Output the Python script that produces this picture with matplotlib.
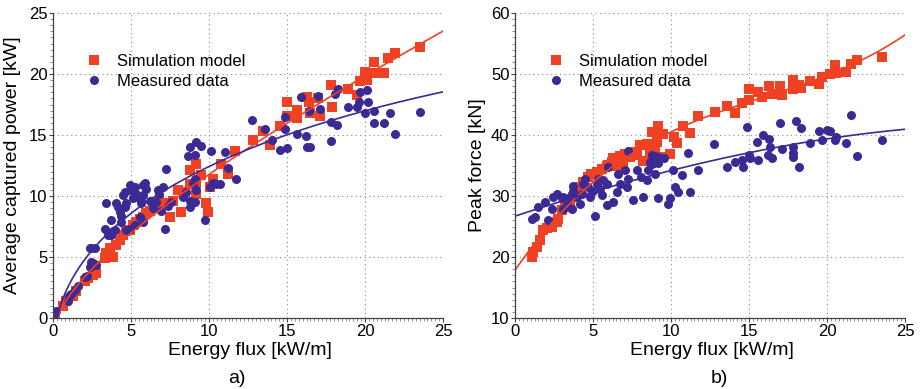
import matplotlib
matplotlib.use('Agg')
import matplotlib.pyplot as plt
import matplotlib.ticker as ticker
import numpy as np

plt.rcParams['font.family'] = ['Liberation Sans', 'DejaVu Sans']

RED = '#EF4123'
BLUE = '#3B2A94'

# a) average captured power vs energy flux
pow_sim_x = [0.11, 0.64, 0.85, 1.28, 1.5, 2.03, 2.26, 2.56, 2.78, 2.67, 3.31, 3.42, 3.85, 3.63,
             4.06, 4.27, 4.49, 4.7, 4.92, 5.13, 5.34, 5.56, 5.77, 5.98, 6.2, 6.4, 6.6, 6.8, 7.26,
             7.48, 7.69, 8.0, 8.22, 8.44, 8.76, 8.76, 9.19, 9.19, 9.51, 9.19, 9.83, 9.94, 10.04,
             10.25, 10.8, 11.2, 11.65, 13.46, 12.8, 13.94, 14.57, 15.0, 15.64, 15.64, 16.28, 16.4,
             16.5, 17.1, 17.0, 17.8, 17.9, 18.9, 19.5, 19.7, 20.1, 20.0, 20.6, 20.6, 21.2, 21.5,
             21.9, 23.5, 15.0]
pow_sim_y = [0.27, 0.95, 1.36, 1.77, 2.2, 3.0, 3.3, 3.5, 3.7, 4.1, 4.9, 5.3, 5.0, 5.7,
             6.0, 6.4, 6.8, 7.1, 7.2, 7.6, 7.9, 8.15, 8.3, 8.6, 8.8, 9.0, 9.1, 9.6, 9.4,
             8.3, 9.6, 10.5, 8.7, 10.3, 11.0, 12.1, 12.6, 11.1, 11.7, 10.2, 9.4, 8.7, 10.7,
             11.4, 12.6, 11.8, 13.7, 15.3, 14.6, 14.2, 15.7, 16.6, 17.05, 16.4, 18.1, 17.7,
             16.8, 16.6, 18.0, 19.1, 17.3, 18.8, 18.3, 19.4, 19.5, 20.2, 20.05, 21.0, 20.05, 21.3,
             21.7, 22.2, 17.7]

pow_meas_x = [0.21, 0.04, 0.96, 1.18, 1.4, 1.6, 1.03, 2.03, 2.18, 2.35, 2.46, 2.56, 2.78, 2.46,
              2.35, 2.67, 3.31, 3.53, 3.74, 3.85, 3.96, 3.74, 3.42, 4.06, 4.27, 4.17, 4.38, 4.6,
              4.7, 4.38, 4.6, 4.49, 4.92, 5.02, 5.24, 5.34, 5.45, 5.66, 5.77, 5.88, 5.98, 5.66,
              6.2, 6.4, 6.6, 6.7, 6.8, 7.05, 7.26, 6.94, 7.16, 7.37, 7.58, 8.33, 8.55, 8.76,
              8.97, 9.08, 9.19, 9.08, 9.72, 10.04, 10.25, 10.47, 10.68, 11.75, 8.65, 9.08, 10.15,
              11.0, 8.76, 5.77, 5.13, 5.56, 4.92, 5.77, 5.24, 4.7, 12.76, 13.57, 8.76, 9.19,
              9.51, 11.2, 14.04, 14.57, 15.0, 14.9, 14.9, 15.64, 15.9, 16.2, 16.3, 16.5, 16.4,
              17.0, 17.1, 17.8, 17.8, 18.1, 18.2, 18.3, 18.9, 19.5, 19.6, 19.7, 20.1, 20.2,
              20.0, 20.6, 20.6, 21.2, 21.6, 21.9, 23.5]
pow_meas_y = [0.54, 0.27, 1.36, 1.98, 2.3, 2.6, 1.77, 3.34, 3.45, 4.2, 4.6, 4.5, 4.35, 5.7,
              5.7, 5.7, 7.3, 6.8, 6.8, 7.1, 7.25, 8.0, 9.4, 9.4, 8.7, 9.1, 8.4, 9.1,
              9.4, 7.9, 10.3, 10.05, 10.9, 10.5, 10.7, 10.2, 9.9, 9.6, 10.05, 11.1, 10.6, 9.4,
              9.6, 9.0, 9.5, 10.5, 10.2, 10.7, 12.2, 8.8, 7.3, 9.2, 9.5, 9.9, 10.3, 9.6,
              11.1, 11.4, 10.5, 9.5, 8.0, 10.7, 11.1, 11.0, 11.0, 11.4, 13.3, 13.4, 13.7,
              13.6, 9.1, 10.9, 9.8, 8.3, 7.3, 7.9, 7.6, 7.2, 16.2, 15.5, 14.0, 14.4,
              14.1, 12.3, 14.6, 13.8, 13.9, 16.5, 15.5, 15.1, 18.1, 14.9, 14.0, 14.0, 17.0,
              18.2, 17.1, 16.1, 14.5, 18.4, 15.8, 18.8, 17.3, 17.3, 17.7, 18.5, 18.7, 17.7,
              16.8, 17.0, 16.0, 16.0, 16.8, 15.1, 16.9]

# b) peak force vs energy flux
force_sim_x = [1.07, 1.18, 1.39, 1.6, 1.82, 2.03, 2.35, 2.67, 2.78, 3.0, 3.2, 3.53, 3.74, 3.95,
               4.17, 4.38, 4.7, 4.9, 5.24, 5.56, 5.88, 6.2, 6.52, 6.73, 7.05, 7.37, 7.7, 8.22,
               8.65, 9.51, 9.94, 6.94, 6.3, 13.57, 12.8, 14.1, 11.75, 10.75, 11.2, 10.2, 10.4,
               9.19, 8.76, 9.08, 9.51, 8.44, 8.01, 8.65, 9.08, 8.97, 7.8, 6.73, 6.3, 6.52, 5.98,
               14.53, 15.0, 15.0, 15.6, 15.85, 16.28, 16.5, 17.0, 17.1, 17.8, 17.8, 18.2, 18.3,
               18.9, 19.5, 19.7, 20.2, 20.5, 20.6, 21.2, 21.55, 21.9, 23.5]
force_sim_y = [20.05, 20.9, 21.7, 22.8, 24.4, 24.7, 24.9, 25.8, 26.3, 27.7, 28.2, 29.0, 29.8, 30.65,
               31.5, 32.3, 33.1, 33.6, 33.9, 34.5, 35.0, 35.5, 36.1, 36.6, 36.9, 36.4, 37.2, 35.8,
               36.4, 36.4, 36.9, 35.0, 35.0, 44.75, 43.8, 43.6, 43.1, 41.4, 40.3, 39.7, 38.7,
               41.4, 40.5, 40.0, 40.2, 38.6, 38.4, 37.8, 38.9, 37.3, 36.7, 36.2, 36.2, 35.1, 35.1,
               45.2, 47.5, 45.7, 47.1, 46.3, 48.0, 46.8, 48.0, 46.6, 49.0, 47.5, 48.2, 47.65,
               48.9, 48.4, 49.5, 50.0, 51.5, 50.2, 50.4, 51.6, 52.3, 52.8]

force_meas_x = [1.07, 1.28, 1.5, 1.92, 2.14, 2.35, 2.46, 2.67, 2.99, 3.1, 3.31, 3.53, 3.63, 3.74,
                3.95, 4.17, 4.27, 4.38, 4.49, 4.7, 4.8, 5.02, 5.13, 5.24, 5.34, 5.45, 5.56, 5.66,
                5.88, 5.88, 5.98, 6.3, 6.52, 6.62, 6.73, 7.05, 7.16, 7.26, 7.58, 7.8, 8.1, 8.22,
                8.44, 8.55, 8.76, 8.97, 9.19, 9.83, 9.94, 10.15, 10.25, 10.47, 10.68, 11.2, 11.75,
                13.57, 14.1, 7.26, 8.97, 11.07, 3.74, 3.1, 12.78, 8.8, 9.19, 9.55, 8.65, 9.19,
                14.57, 14.6, 14.9, 15.0, 15.04, 15.5, 15.6, 15.9, 16.3, 16.34, 16.2, 16.5, 17.0,
                17.1, 17.8, 17.8, 17.8, 18.0, 18.3, 18.2, 18.9, 19.5, 19.7, 20.0, 20.2, 20.5,
                20.6, 21.2, 21.55, 21.9, 23.5]
force_meas_y = [26.3, 26.6, 28.2, 29.0, 26.0, 27.9, 29.8, 30.4, 29.6, 27.9, 28.5, 29.8, 27.9, 30.9,
                29.8, 28.75, 30.4, 32.0, 32.8, 31.5, 29.8, 30.9, 26.8, 32.0, 32.8, 31.2, 30.1, 32.6,
                32.0, 28.5, 34.7, 29.0, 30.65, 33.6, 32.0, 34.2, 31.5, 32.8, 29.3, 34.2, 33.1, 29.8,
                32.6, 34.2, 35.3, 33.6, 29.6, 28.75, 29.6, 34.2, 31.5, 30.65, 33.4, 30.65, 34.2,
                34.7, 35.5, 37.4, 36.6, 37.0, 31.7, 29.8, 38.5, 36.7, 36.4, 36.3, 35.6, 35.4,
                35.9, 34.7, 41.3, 36.7, 36.3, 38.9, 35.9, 40.0, 39.4, 38.1, 36.7, 36.2, 42.0,
                37.7, 38.1, 37.1, 36.4, 42.35, 41.1, 34.8, 38.7, 40.7, 39.2, 40.9, 40.7, 39.2,
                39.6, 38.7, 43.3, 36.6, 39.2]


# fitted trend: polynomial in sqrt(x) (concave) or plain polynomial
def trend(x, y, deg, root=False):
    x = np.asarray(x)
    xs = np.linspace(0, 25, 200)
    if root:
        c = np.polyfit(np.sqrt(x), y, deg)
        return xs, np.polyval(c, np.sqrt(xs))
    c = np.polyfit(x, y, deg)
    return xs, np.polyval(c, xs)


def style_axes(ax, ylim, ymajor, yminor):
    ax.set_xlim(0, 25)
    ax.set_ylim(*ylim)
    ax.xaxis.set_major_locator(ticker.MultipleLocator(5))
    ax.xaxis.set_minor_locator(ticker.MultipleLocator(0.25))
    ax.yaxis.set_major_locator(ticker.MultipleLocator(ymajor))
    ax.yaxis.set_minor_locator(ticker.MultipleLocator(yminor))
    ax.spines['right'].set_visible(False)
    ax.spines['top'].set_visible(False)
    for s in ('left', 'bottom'):
        ax.spines[s].set_color('#444444')
        ax.spines[s].set_linewidth(0.9)
    ax.tick_params(which='major', direction='out', length=3, width=0.8, pad=1,
                   labelsize=12, color='#444444')
    ax.tick_params(which='minor', direction='out', length=2, width=0.5, color='#666666')
    ax.grid(which='major', linestyle=(0, (1, 3)), color='#888888', linewidth=0.8)
    ax.set_axisbelow(True)
    ax.set_xlabel('Energy flux [kW/m]', fontsize=14)
    ax.xaxis.label.set_verticalalignment('center')
    ax.yaxis.label.set_verticalalignment('center')
    ax.xaxis.set_label_coords(0.505, -0.105)


def draw(ax, sx, sy, mx, my, fit_s, fit_m):
    ax.plot(sx, sy, 's', color=RED, markersize=6.5, markeredgewidth=0, label='Simulation model')
    ax.plot(mx, my, 'o', color=BLUE, markersize=6.5, markeredgewidth=0, label='Measured data')
    ax.plot(*trend(sx, sy, *fit_s), color=RED, linewidth=1.2)
    ax.plot(*trend(mx, my, *fit_m), color=BLUE, linewidth=1.2)
    ax.legend(loc='upper left', bbox_to_anchor=(0.084, 0.867), frameon=False, fontsize=12,
              handlelength=1.0, handletextpad=0.9, borderpad=0, borderaxespad=0,
              labelspacing=0.3)


fig = plt.figure(figsize=(9.22, 3.89), dpi=100)
ax1 = fig.add_axes([0.0575, 0.1825, 0.423, 0.784])
ax2 = fig.add_axes([0.5586, 0.1825, 0.423, 0.784])

style_axes(ax1, (0, 25), 5, 0.5)
draw(ax1, pow_sim_x, pow_sim_y, pow_meas_x, pow_meas_y, (2, True), (2, True))
ax1.set_ylabel('Average captured power [kW]', fontsize=14)
ax1.yaxis.set_label_coords(-0.103, 0.5)

style_axes(ax2, (10, 60), 10, 1)
draw(ax2, force_sim_x, force_sim_y, force_meas_x, force_meas_y, (3, False), (3, False))
ax2.set_ylabel('Peak force [kN]', fontsize=14)
ax2.yaxis.set_label_coords(-0.095, 0.5)

fig.text(0.257, 0.026, 'a)', fontsize=14, ha='center', va='center')
fig.text(0.78, 0.026, 'b)', fontsize=14, ha='center', va='center')

fig.savefig('out.png', dpi=100)
